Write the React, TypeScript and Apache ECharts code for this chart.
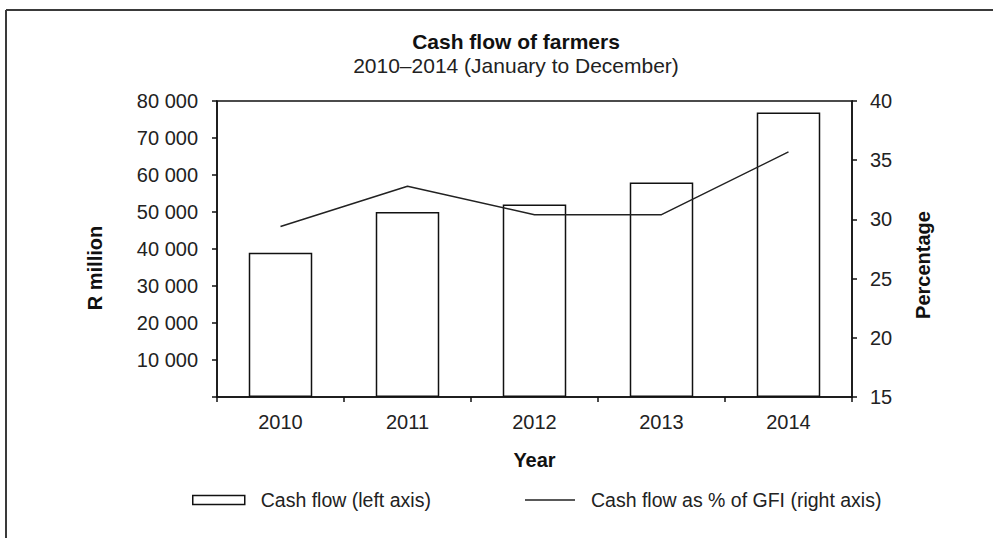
import React, { useEffect, useRef } from "react";
import * as echarts from "echarts";

const years = ["2010", "2011", "2012", "2013", "2014"];
const cashFlow = [39000, 50000, 52000, 58000, 76900];
const cashFlowPctGFI = [29.4, 32.8, 30.4, 30.4, 35.7];
const leftTicks = { min: 0, max: 80000, interval: 10000 };
const rightTicks = { min: 15, max: 40, interval: 5 };
const seriesNames = ["Cash flow (left axis)", "Cash flow as % of GFI (right axis)"];

const FONT = "'Liberation Sans', Arial, sans-serif";

function fmtThousands(v: number): string {
  if (v === 0) return "";
  return String(v).replace(/\B(?=(\d{3})+(?!\d))/g, " ");
}

export default function App() {
  const ref = useRef<HTMLDivElement>(null);
  useEffect(() => {
    if (!ref.current) return;
    const chart = echarts.init(ref.current, null, { renderer: "svg" });
    const axisLine = { show: true, lineStyle: { color: "#111", width: 1.5 } };
    const axisTick = { show: true, inside: false, length: 5, lineStyle: { color: "#111", width: 1.5 } };
    const labelStyle = { color: "#222", fontSize: 20, fontFamily: FONT };
    const nameStyle = { fontSize: 20, fontWeight: "bold", color: "#111", fontFamily: FONT };
    const legendText = { fontSize: 19.5, color: "#222", fontFamily: FONT, padding: [0, 0, 0, 11] };
    chart.setOption({
      animation: false,
      backgroundColor: "#fff",
      textStyle: { fontFamily: FONT },
      title: {
        text: "Cash flow of farmers",
        subtext: "2010–2014 (January to December)",
        left: 511,
        textAlign: "center",
        top: 26,
        itemGap: 3,
        textStyle: { fontSize: 21, fontWeight: "bold", color: "#111", fontFamily: FONT },
        subtextStyle: { fontSize: 21, color: "#222", fontFamily: FONT },
      },
      grid: {
        left: 217,
        right: 141,
        top: 101,
        bottom: 141,
        show: true,
        borderColor: "#111",
        borderWidth: 1.5,
        backgroundColor: "transparent",
      },
      legend: [
        {
          top: 485,
          left: 187,
          itemWidth: 52,
          itemHeight: 9,
          textStyle: legendText,
          data: [{ name: seriesNames[0], icon: "rect", itemStyle: { color: "#fff", borderColor: "#111", borderWidth: 1.5 } }],
        },
        {
          top: 485,
          left: 520,
          itemWidth: 50,
          itemHeight: 1.5,
          textStyle: legendText,
          data: [{ name: seriesNames[1], icon: "rect", itemStyle: { color: "#222", borderWidth: 0 } }],
        },
      ],
      xAxis: {
        type: "category",
        data: years,
        boundaryGap: true,
        name: "Year",
        nameLocation: "middle",
        nameGap: 53,
        nameTextStyle: nameStyle,
        axisLine,
        axisTick: { ...axisTick, alignWithLabel: false },
        axisLabel: { ...labelStyle, margin: 15 },
        splitLine: { show: false },
      },
      yAxis: [
        {
          type: "value",
          position: "left",
          min: leftTicks.min,
          max: leftTicks.max,
          interval: leftTicks.interval,
          name: "R million",
          nameLocation: "middle",
          nameGap: 112,
          nameRotate: 90,
          nameTextStyle: { ...nameStyle, padding: [0, 38, 0, 0] },
          axisLine,
          axisTick,
          axisLabel: { ...labelStyle, margin: 19, formatter: (v: number) => fmtThousands(v) },
          splitLine: { show: false },
        },
        {
          type: "value",
          position: "right",
          min: rightTicks.min,
          max: rightTicks.max,
          interval: rightTicks.interval,
          name: "Percentage",
          nameLocation: "middle",
          nameGap: 61,
          nameRotate: 90,
          nameTextStyle: { ...nameStyle, padding: [0, 32, 0, 0] },
          axisLine,
          axisTick,
          axisLabel: { ...labelStyle, margin: 18 },
          splitLine: { show: false },
        },
      ],
      series: [
        {
          name: seriesNames[0],
          type: "bar",
          yAxisIndex: 0,
          data: cashFlow,
          barWidth: "50%",
          itemStyle: { color: "#fff", borderColor: "#111", borderWidth: 1.5 },
        },
        {
          name: seriesNames[1],
          type: "line",
          yAxisIndex: 1,
          data: cashFlowPctGFI,
          symbol: "none",
          lineStyle: { color: "#222", width: 1.5 },
          itemStyle: { color: "#222" },
        },
      ],
      graphic: [
        { type: "line", shape: { x1: 6, y1: 10, x2: 993, y2: 10 }, style: { stroke: "#3a3a3a", lineWidth: 2 } },
        { type: "line", shape: { x1: 6, y1: 10, x2: 6, y2: 538 }, style: { stroke: "#3a3a3a", lineWidth: 2 } },
      ],
    });
    return () => chart.dispose();
  }, []);
  return <div ref={ref} style={{ position: "fixed", left: 0, top: 0, width: 993, height: 538 }} />;
}
